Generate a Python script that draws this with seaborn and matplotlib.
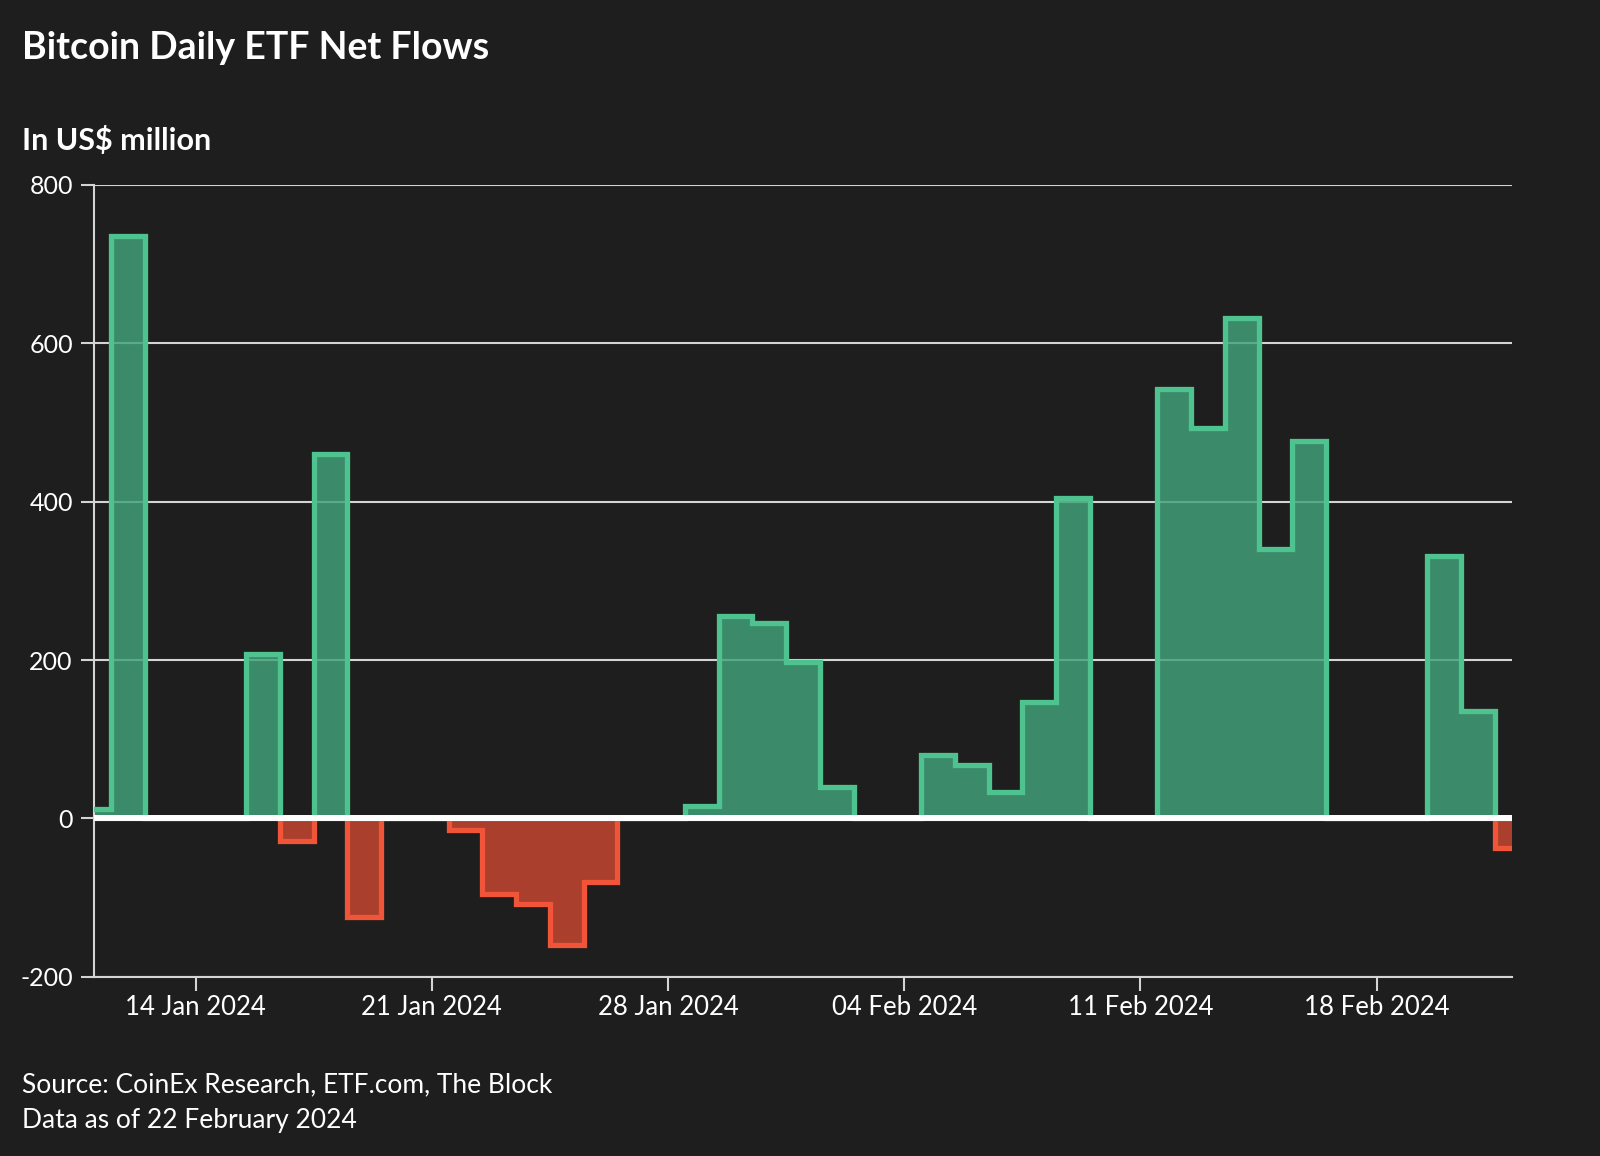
import matplotlib
matplotlib.use("Agg")
import matplotlib.pyplot as plt
import seaborn as sns
import pandas as pd

# ---- data ----
dates = pd.date_range("2024-01-11", "2024-02-22", freq="D")
flows = [12, 735, 0, 0, 0, 208, -28, 460, -125, 0, 0,
         -15, -95, -108, -160, -81, 0, 0, 15, 255, 247,
         197, 40, 0, 0, 80, 68, 33, 147, 405, 0, 0,
         542, 493, 632, 340, 477, 0, 0, 0, 332, 136, -37]
tick_dates = pd.to_datetime(["2024-01-14", "2024-01-21", "2024-01-28",
                             "2024-02-04", "2024-02-11", "2024-02-18"])
tick_labels = ["14 Jan 2024", "21 Jan 2024", "28 Jan 2024",
               "04 Feb 2024", "11 Feb 2024", "18 Feb 2024"]
y_ticks = [-200, 0, 200, 400, 600, 800]
title = "Bitcoin Daily ETF Net Flows"
subtitle = "In US$ million"
footer = ["Source: CoinEx Research, ETF.com, The Block",
          "Data as of 22 February 2024"]

BG = "#1e1e1e"
GRID = "#d4d4d4"
GREEN_FILL = "#42a27a"
GREEN_EDGE = "#4fc38f"
RED_FILL = "#c2452f"
RED_EDGE = "#f0553a"

sns.set_theme(style="dark", rc={
    "figure.facecolor": BG, "axes.facecolor": BG,
    "axes.edgecolor": GRID, "text.color": "white",
    "xtick.color": GRID, "ytick.color": GRID,
    "axes.labelcolor": "white",
})
plt.rcParams['font.family'] = ['Lato', 'DejaVu Sans']

df = pd.DataFrame({"date": dates, "flow": flows})
df["pos"] = df["flow"].clip(lower=0)
df["neg"] = df["flow"].clip(upper=0)

fig = plt.figure(figsize=(16, 11.56), dpi=100, facecolor=BG)
ax = fig.add_axes([94.3 / 1600, 1 - 976.7 / 1156,
                   (1511.7 - 94.3) / 1600, (976.7 - 185) / 1156])
ax.set_facecolor(BG)

# fills
ax.fill_between(df["date"], 0, df["pos"], step="mid", color=GREEN_FILL,
                alpha=0.83, lw=0, zorder=2)
ax.fill_between(df["date"], 0, df["neg"], step="mid", color=RED_FILL,
                alpha=0.85, lw=0, zorder=2)
# outlines
sns.lineplot(data=df, x="date", y="pos", drawstyle="steps-mid", color=GREEN_EDGE,
             lw=3.8, ax=ax, zorder=3, solid_joinstyle="miter")
sns.lineplot(data=df, x="date", y="neg", drawstyle="steps-mid", color=RED_EDGE,
             lw=3.8, ax=ax, zorder=3, solid_joinstyle="miter")

# zero line
ax.axhline(0, color="white", lw=4.3, zorder=5)

ax.set_xlim(dates[0], dates[-1])
ax.set_ylim(-200, 800)
ax.set_yticks(y_ticks)
ax.set_yticklabels([str(v) for v in y_ticks])
ax.set_xticks(tick_dates)
ax.set_xticklabels(tick_labels)
ax.set_xlabel("")
ax.set_ylabel("")

ax.grid(axis="y", color=GRID, lw=1.5, zorder=1)
ax.grid(axis="x", visible=False)
for s in ["top", "right"]:
    ax.spines[s].set_visible(False)
for s in ["left", "bottom"]:
    ax.spines[s].set_color(GRID)
    ax.spines[s].set_linewidth(1.5)

ax.tick_params(axis="y", length=9.5, width=1.5, color=GRID, labelcolor="white",
               labelsize=18, pad=6, left=True)
ax.tick_params(axis="x", length=10, width=1.5, color=GRID, labelcolor="white",
               labelsize=18.5, pad=3, bottom=True)

fig.text(22.5 / 1600, 1 - 59 / 1156, title, fontsize=27, fontweight="bold",
         color="white", va="baseline", ha="left")
fig.text(22.5 / 1600, 1 - 150 / 1156, subtitle, fontsize=22, fontweight="bold",
         color="white", va="baseline", ha="left")
fig.text(22.5 / 1600, 1 - 1092 / 1156, footer[0], fontsize=19,
         color="white", va="baseline", ha="left")
fig.text(22.5 / 1600, 1 - 1128 / 1156, footer[1], fontsize=19,
         color="white", va="baseline", ha="left")

fig.savefig("out.png", dpi=100, facecolor=BG)
